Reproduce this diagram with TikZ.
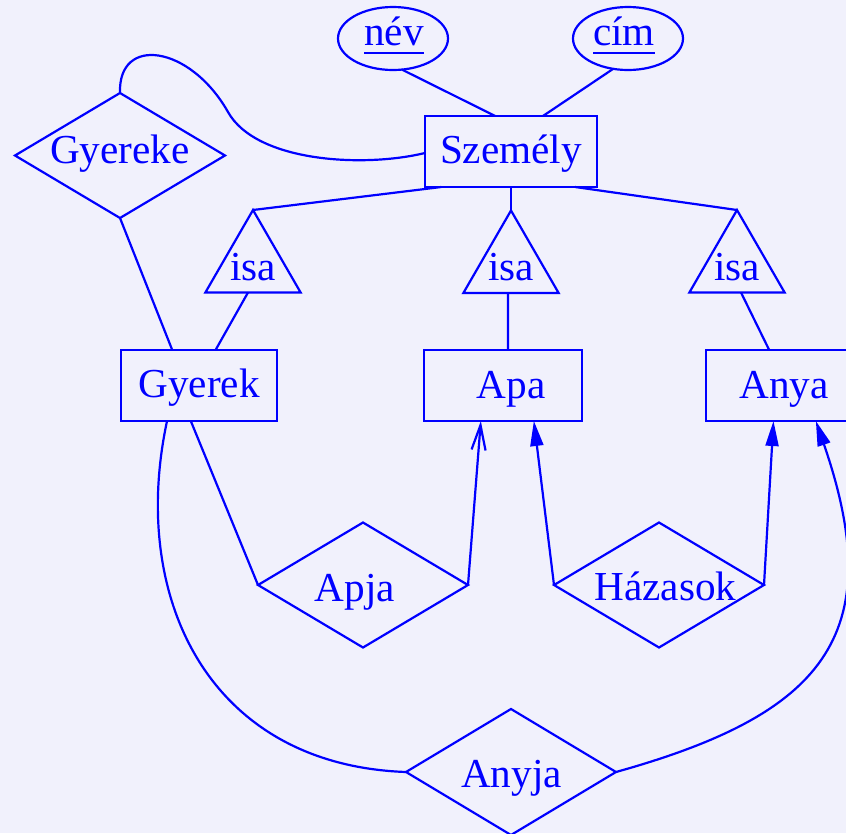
\documentclass[tikz,border=0pt]{standalone}
\usepackage{fontspec}
\setmainfont{Liberation Serif}
\usetikzlibrary{shapes.geometric,arrows.meta,calc}
\definecolor{bgc}{RGB}{241,241,252}
\definecolor{erblue}{RGB}{0,0,255}
\newcommand\keyword[1]{\setbox0\hbox{#1}\rlap{\rule[-9pt]{\wd0}{2.2pt}}\box0}
\begin{document}
\begin{tikzpicture}[x=1pt,y=-1pt,
  ln/.style={draw=erblue, line width=2.2pt},
  entity/.style={rectangle, draw=erblue, line width=2.2pt, minimum width=158pt, minimum height=71pt, inner sep=0pt, outer sep=0pt},
  attr/.style={ellipse, draw=erblue, line width=2.2pt, minimum width=110pt, minimum height=63pt, inner sep=0pt, outer sep=0pt},
  rel/.style={diamond, draw=erblue, line width=2.2pt, minimum width=210pt, minimum height=125pt, inner sep=0pt, outer sep=0pt},
  isatri/.style={regular polygon, regular polygon sides=3, draw=erblue, line width=2.2pt, minimum size=110pt, inner sep=0pt, outer sep=0pt},
  lbl/.style={text=erblue, font=\fontsize{41.2pt}{48pt}\selectfont, anchor=base, inner sep=0pt},
  filledtip/.style={-{Triangle[length=25pt,width=13pt]}},
  opentip/.style={-{Straight Barb[length=25pt,width=14pt]}}
]
\useasboundingbox (0,0) rectangle (846,833);
\fill[bgc] (0,0) rectangle (846,833);

% entities
\node[entity, minimum width=172pt] (szemely) at (511,151.5) {};
\node[lbl] (tszemely) at (511,163) {Személy};
\node[entity, minimum width=156pt] (gyerek) at (199,385.5) {};
\node[lbl] (tgyerek) at (199,397) {Gyerek};
\node[entity] (apa) at (503,385.5) {};
\node[lbl] (tapa) at (511,398) {Apa};
\node[entity] (anya) at (785,385.5) {};
\node[lbl] (tanya) at (784,398) {Anya};

% attributes
\node[attr] (nev) at (393,38.5) {};
\node[lbl] (tnev) at (394,45) {\keyword{név}};
\node[attr] (cim) at (628,38.5) {};
\node[lbl] (tcim) at (624,45) {\keyword{cím}};

% relationships
\node[rel] (gyereke) at (120,155.5) {};
\node[lbl] (tgyereke) at (120,163) {Gyereke};
\node[rel] (apja) at (363,585) {};
\node[lbl] (tapja) at (355,601) {Apja};
\node[rel] (hazasok) at (659,585) {};
\node[lbl] (thazasok) at (665.5,600) {Házasok};
\node[rel, minimum height=126pt] (anyja) at (511,772) {};
\node[lbl] (tanyja) at (511.5,787) {Anyja};

% isa triangles
\node[isatri] (isaL) at (253,265) {};
\node[lbl] (tisaL) at (253,280) {isa};
\node[isatri] (isaM) at (511,265.5) {};
\node[lbl] (tisaM) at (511,280) {isa};
\node[isatri] (isaR) at (737,265) {};
\node[lbl] (tisaR) at (737,280) {isa};

\coordinate (loopmid) at (228,112);

% connectors
\draw[ln] (nev.-74) -- (szemely.114);
\draw[ln] (cim.244) -- (szemely.48);
\draw[ln] (gyereke.north) .. controls +(-2,-58) and +(-38,-67) .. (loopmid)
          .. controls +(28,50) and +(-62,15) .. (szemely.181);
\draw[ln] (szemely.207.2) -- (isaL.corner 1);
\draw[ln] (szemely.south) -- (isaM.corner 1);
\draw[ln] (szemely.-29.8) -- (isaR.corner 1);
\draw[ln] ($(isaL.side 2)+(-5,0)$) -- (gyerek.65.7);
\draw[ln] ($(isaM.side 2)+(-3,0)$) -- (apa.82);
\draw[ln] ($(isaR.side 2)+(4,0)$) -- (anya.114.3);
\draw[ln] (gyereke.south) -- (gyerek.127.3);
\draw[ln] (gyerek.257.3) -- (apja.west);
\draw[ln, opentip] (apja.east) -- (apa.238.2);
\draw[ln, filledtip] (hazasok.west) -- (apa.-49.8);
\draw[ln, filledtip] (hazasok.east) -- (anya.252.8);
\draw[ln] (gyerek.228.9) .. controls +(-38,177) and +(-197,-7) .. (anyja.west);
\draw[ln, filledtip] (anyja.east) .. controls +(204,-57) and +(75,217) .. (anya.-49.8);
\end{tikzpicture}
\end{document}
